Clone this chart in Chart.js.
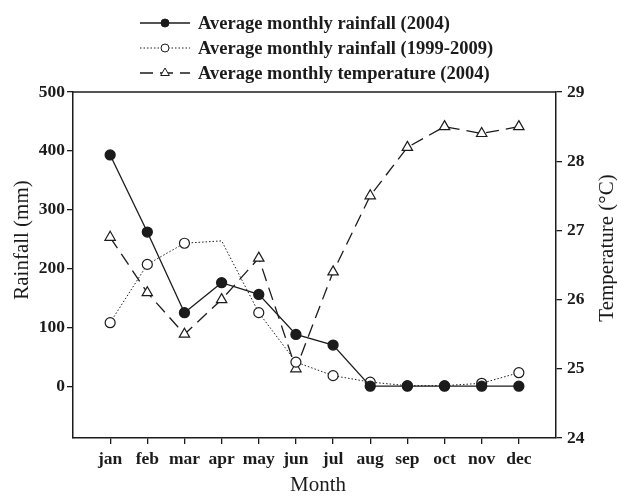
<!DOCTYPE html>
<html lang="en">
<head>
<meta charset="UTF-8">
<title>Monthly rainfall and temperature</title>
<script src="https://cdn.jsdelivr.net/npm/chart.js"></script>
<style>
  body { margin: 0; background: #fff; }
  canvas { display: block; }
</style>
</head>
<body>
<canvas id="chart" width="617" height="496"></canvas>
<script>
  const months = ['jan', 'feb', 'mar', 'apr', 'may', 'jun', 'jul', 'aug', 'sep', 'oct', 'nov', 'dec'];
  const rain2004 = [393, 262, 125, 176, 156, 88, 70, 0, 0, 0, 0, 0];
  const rainAvg = [108, 207, 243, 247, 125, 41, 18, 7, 1, 1, 5, 23];
  const temp2004 = [26.9, 26.1, 25.5, 26.0, 26.6, 25.0, 26.4, 27.5, 28.2, 28.5, 28.4, 28.5];
  const rainTicks = [0, 100, 200, 300, 400, 500];
  const tempTicks = [24, 25, 26, 27, 28, 29];
  const noSymbol = ['apr'];   // the 1999-2009 curve has no circle at apr

  const ink = '#1b1b1b';
  const serif = "'Liberation Serif', 'Times New Roman', serif";
  Chart.defaults.font.family = serif;
  Chart.defaults.color = ink;

  const pts = arr => arr.map((v, i) => ({ x: i + 1, y: v }));

  // legend, axis titles and top edge drawn by hand
  const decor = {
    id: 'decor',
    afterDraw(chart) {
      const { ctx, chartArea: a } = chart;
      ctx.save();
      ctx.strokeStyle = ink;
      ctx.fillStyle = ink;
      ctx.lineWidth = 1.5;
      ctx.beginPath();
      ctx.moveTo(a.left, a.top);
      ctx.lineTo(a.right, a.top);
      ctx.stroke();

      ctx.font = '21px ' + serif;
      ctx.textAlign = 'center';
      ctx.textBaseline = 'middle';
      ctx.fillText('Month', 318, 485);
      ctx.save();
      ctx.translate(22, 240);
      ctx.rotate(-Math.PI / 2);
      ctx.fillText('Rainfall (mm)', 0, 0);
      ctx.restore();
      ctx.save();
      ctx.translate(607, 248);
      ctx.rotate(-Math.PI / 2);
      ctx.fillText('Temperature (\u00B0C)', 0, 0);
      ctx.restore();

      ctx.font = 'bold 18.5px ' + serif;
      ctx.textAlign = 'left';
      chart.data.datasets.forEach((ds, i) => {
        const y = 23 + i * 25;
        ctx.strokeStyle = ink;
        ctx.lineWidth = ds.borderWidth;
        ctx.setLineDash(ds.borderDash || []);
        ctx.beginPath();
        ctx.moveTo(140, y);
        ctx.lineTo(190, y);
        ctx.stroke();
        ctx.setLineDash([]);
        ctx.lineWidth = 1;
        ctx.fillStyle = ds.pointBackgroundColor;
        Chart.helpers.drawPoint(ctx, { pointStyle: ds.pointStyle, radius: ds.pointStyle === 'triangle' ? 5 : 4, rotation: 0, borderWidth: 1 }, 165, y);
        ctx.fillStyle = ink;
        ctx.fillText(ds.label, 198, y + 1);
      });
      ctx.restore();
    }
  };

  const tickGrid = { display: true, drawOnChartArea: false, drawTicks: true, tickLength: 6, color: ink, tickColor: ink, lineWidth: 1.3 };
  const axisBorder = { display: true, color: ink, width: 1.5 };
  const tickFont = { size: 17.5, weight: 'bold' };

  new Chart(document.getElementById('chart'), {
    type: 'line',
    data: {
      datasets: [
        {
          label: 'Average monthly rainfall (2004)',
          data: pts(rain2004),
          yAxisID: 'yRain',
          borderColor: ink,
          borderWidth: 1.3,
          pointStyle: 'circle',
          pointRadius: 5,
          pointBackgroundColor: ink,
          pointBorderColor: ink,
          tension: 0
        },
        {
          label: 'Average monthly rainfall (1999-2009)',
          data: pts(rainAvg),
          yAxisID: 'yRain',
          borderColor: ink,
          borderWidth: 1,
          borderDash: [1.5, 2],
          pointStyle: 'circle',
          pointRadius: c => noSymbol.includes(months[c.dataIndex]) ? 0 : 5,
          pointBackgroundColor: '#fff',
          pointBorderColor: ink,
          pointBorderWidth: 1.2,
          tension: 0
        },
        {
          label: 'Average monthly temperature (2004)',
          data: pts(temp2004),
          yAxisID: 'yTemp',
          borderColor: ink,
          borderWidth: 1.3,
          borderDash: [13, 7],
          pointStyle: 'triangle',
          pointRadius: 6,
          pointBackgroundColor: '#fff',
          pointBorderColor: ink,
          pointBorderWidth: 1.2,
          tension: 0
        }
      ]
    },
    options: {
      responsive: false,
      animation: false,
      layout: { padding: { top: 92, left: 0, right: 0, bottom: 0 } },
      plugins: { legend: { display: false }, tooltip: { enabled: false } },
      scales: {
        x: {
          type: 'linear',
          min: 0,
          max: months.length + 1,
          grid: tickGrid,
          border: axisBorder,
          afterBuildTicks: s => { s.ticks = months.map((m, i) => ({ value: i + 1 })); },
          ticks: { font: tickFont, padding: 5, maxRotation: 0, callback: v => months[v - 1] },
          afterFit: s => { s.height = 58; }
        },
        yRain: {
          position: 'left',
          min: -88,
          max: 500,
          grid: tickGrid,
          border: axisBorder,
          afterBuildTicks: s => { s.ticks = rainTicks.map(v => ({ value: v })); },
          ticks: { font: tickFont, padding: 2 },
          afterFit: s => { s.width = 73; }
        },
        yTemp: {
          position: 'right',
          min: 24,
          max: 29,
          grid: tickGrid,
          border: axisBorder,
          afterBuildTicks: s => { s.ticks = tempTicks.map(v => ({ value: v })); },
          ticks: { font: tickFont, padding: 5 },
          afterFit: s => { s.width = 61; }
        }
      }
    },
    plugins: [decor]
  });
</script>
</body>
</html>
